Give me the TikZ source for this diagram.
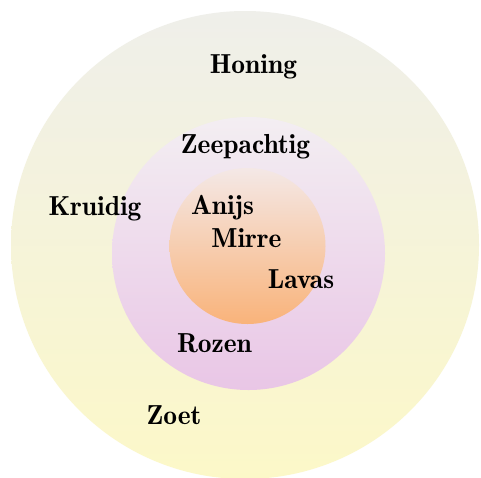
\documentclass[tikz,border=0pt]{standalone}
\usepackage{fontspec}
\definecolor{outerTop}{HTML}{EFEFEA}
\definecolor{outerBot}{HTML}{FCF8C8}
\definecolor{midTop}{HTML}{F3EEF2}
\definecolor{midBot}{HTML}{E9C6E6}
\definecolor{innTop}{HTML}{F4E8E6}
\definecolor{innBot}{HTML}{F9B37A}
\tikzset{
  lbl/.style={anchor=base, inner sep=0pt, text=black,
    font=\fontsize{27.5}{30}\fontseries{b}\selectfont}
}
\begin{document}
\begin{tikzpicture}[x=1pt,y=-1pt]
\useasboundingbox (0,0) rectangle (481,477);
\fill[white] (0,0) rectangle (481,477);
\shade[top color=outerTop, bottom color=outerBot] (245,245) circle[radius=234];
\shade[top color=midTop, bottom color=midBot] (248.5,253.5) circle[radius=136.5];
\shade[top color=innTop, bottom color=innBot] (247.5,246) circle[radius=78];
\node[lbl] (honing) at (253.5,73) {Honing};
\node[lbl] (zeep) at (245.5,153) {Zeepachtig};
\node[lbl] (kruidig) at (95,215) {Kruidig};
\node[lbl] (anijs) at (222.5,214) {Anijs};
\node[lbl] (mirre) at (246.5,247) {Mirre};
\node[lbl] (lavas) at (301,288) {Lavas};
\node[lbl] (rozen) at (214.5,352) {Rozen};
\node[lbl] (zoet) at (174,424) {Zoet};
\end{tikzpicture}
\end{document}
